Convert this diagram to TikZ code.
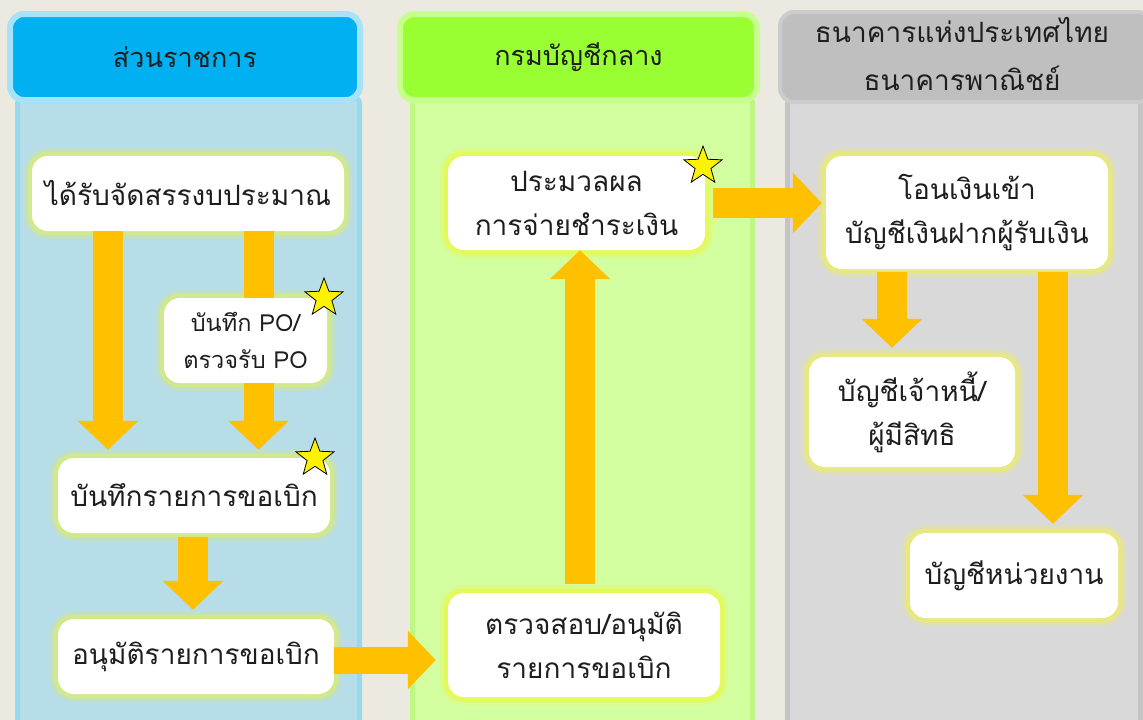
\documentclass[tikz,border=0pt]{standalone}
\usepackage{fontspec}
\usetikzlibrary{arrows.meta,shapes.geometric,calc}
\newfontfamily\thai[Script=Thai]{Loma}
\definecolor{bgc}{RGB}{236,233,225}
\definecolor{laneA}{RGB}{183,221,232}
\definecolor{laneAg}{RGB}{150,218,238}
\definecolor{headA}{RGB}{0,176,240}
\definecolor{laneB}{RGB}{211,254,160}
\definecolor{laneBg}{RGB}{190,248,130}
\definecolor{headB}{RGB}{153,255,51}
\definecolor{laneC}{RGB}{217,217,217}
\definecolor{laneCg}{RGB}{196,196,196}
\definecolor{headC}{RGB}{191,191,191}
\definecolor{glowA}{RGB}{210,232,140}
\definecolor{glowB}{RGB}{228,250,90}
\definecolor{glowC}{RGB}{232,232,130}
\definecolor{arr}{RGB}{255,192,0}
\definecolor{txt}{RGB}{30,30,30}
\tikzset{
  lane/.style={rounded corners=6pt, inner sep=0pt},
  header/.style={rounded corners=14pt, inner sep=0pt, text=txt, font=\thai\fontsize{27}{48}\selectfont, align=center},
  box/.style={rounded corners=16pt, fill=white, inner sep=0pt, text=txt, align=center,
     font=\thai\fontsize{28}{44}\selectfont},
  boxA/.style={box, preaction={draw=glowA, line width=16pt, draw opacity=.35}, preaction={draw=glowA, line width=9pt}},
  boxB/.style={box, preaction={draw=glowB, line width=16pt, draw opacity=.35}, preaction={draw=glowB, line width=9pt}},
  boxC/.style={box, preaction={draw=glowC, line width=16pt, draw opacity=.35}, preaction={draw=glowC, line width=9pt}},
  blk/.style={draw=arr, line width=30pt, line cap=butt, -{Triangle[width=59pt,length=29pt]}},
  shaft/.style={draw=arr, line width=30pt, line cap=butt},
  starmark/.style={star, star points=5, star point ratio=2.4, minimum size=40pt, inner sep=0pt, fill=yellow, draw=black, line width=0.8pt}
}
\begin{document}
\begin{tikzpicture}[x=1pt,y=-1pt]
\useasboundingbox (0,0) rectangle (1143,720);
\fill[bgc] (0,0) rectangle (1143,720);
% lanes
\node[lane, fill=laneA, draw=laneAg, line width=5pt, minimum width=342pt, minimum height=640pt, anchor=north west] (laneA) at (15,95) {};
\node[lane, fill=laneB, draw=laneBg, line width=5pt, minimum width=340pt, minimum height=640pt, anchor=north west] (laneB) at (410,95) {};
\node[lane, fill=laneC, draw=laneCg, line width=5pt, minimum width=353pt, minimum height=640pt, anchor=north west] (laneC) at (785,95) {};
% headers
\node[header, fill=headA, draw=headA!35, line width=6pt, minimum width=350pt, minimum height=86pt] (hA) at (185,57) {ส่วนราชการ};
\node[header, fill=headB, draw=headB!55, line width=6pt, minimum width=357pt, minimum height=86pt] (hB) at (578.5,57) {กรมบัญชีกลาง};
\node[header, fill=headC, draw=headC!80, line width=4pt, minimum width=372pt, minimum height=90pt, anchor=north west] (hC) at (778,10) {};
\node[text=txt, font=\thai\fontsize{28}{48}\selectfont, align=center] (hCt) at (962,54) {ธนาคารแห่งประเทศไทย\\ธนาคารพาณิชย์};
% boxes
\node[boxA, minimum width=312pt, minimum height=75pt] (b1) at (188,193.5) {ได้รับจัดสรรงบประมาณ};
\node[boxA, minimum width=163pt, minimum height=85pt, font=\thai\fontsize{23.5}{37}\selectfont] (b2) at (245.5,340.5) {บันทึก PO/\\ตรวจรับ PO};
\node[boxA, minimum width=272pt, minimum height=75pt] (b3) at (194,495.5) {บันทึกรายการขอเบิก};
\node[boxA, minimum width=276pt, minimum height=75pt] (b4) at (196,656.5) {อนุมัติรายการขอเบิก};
\node[boxB, minimum width=272pt, minimum height=104pt] (b5) at (584,645) {ตรวจสอบ/อนุมัติ\\รายการขอเบิก};
\node[boxB, minimum width=257pt, minimum height=94pt] (b6) at (576.5,203) {ประมวลผล\\การจ่ายชำระเงิน};
\node[boxC, minimum width=282pt, minimum height=113pt] (b7) at (967,212.5) {โอนเงินเข้า\\บัญชีเงินฝากผู้รับเงิน};
\node[boxC, minimum width=206pt, minimum height=110pt] (b8) at (912,412) {บัญชีเจ้าหนี้/\\ผู้มีสิทธิ};
\node[boxC, minimum width=208pt, minimum height=85pt] (b9) at (1014,575.5) {บัญชีหน่วยงาน};
% arrow guide coordinates
\coordinate (x1) at (108,0);
\coordinate (x2) at (258.5,0);
\coordinate (x3) at (193,0);
\coordinate (y4) at (0,660);
\coordinate (x5) at (580,0);
\coordinate (y6) at (0,203);
\coordinate (x7) at (892,0);
\coordinate (x8) at (1053,0);
% arrows
\draw[blk, shorten >=8pt] (b1.south -| x1) -- (b3.north -| x1);
\draw[shaft] (b1.south -| x2) -- (b2.north -| x2);
\draw[blk, shorten >=8pt] (b2.south -| x2) -- (b3.north -| x2);
\draw[blk, shorten <=4pt, shorten >=9pt] (b3.south -| x3) -- (b4.north -| x3);
\draw[blk, -{Triangle[width=57pt,length=28pt]}, line width=27pt, shorten >=12pt] (b4.east |- y4) -- (b5.west |- y4);
\draw[blk, shorten <=9pt] (b5.north -| x5) -- (b6.south -| x5);
\draw[blk, shorten <=8pt, shorten >=4pt] (b6.east |- y6) -- (b7.west |- y6);
\draw[blk, shorten <=3pt, shorten >=9pt] (b7.south -| x7) -- (b8.north -| x7);
\draw[blk, shorten <=3pt, shorten >=9pt] (b7.south -| x8) -- (b9.north -| x8);
% stars
\node[starmark] (s2) at (324,298) {};
\node[starmark] (s3) at (315,458) {};
\node[starmark] (s6) at (703,166) {};
\end{tikzpicture}
\end{document}
